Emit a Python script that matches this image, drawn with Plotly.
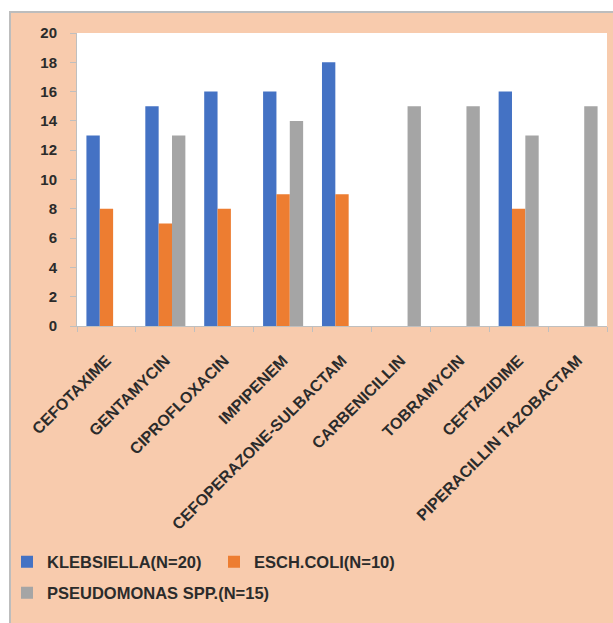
import plotly.graph_objects as go

# Antibiotics on the category axis
antibiotics = [
    "CEFOTAXIME", "GENTAMYCIN", "CIPROFLOXACIN", "IMPIPENEM",
    "CEFOPERAZONE-SULBACTAM", "CARBENICILLIN", "TOBRAMYCIN",
    "CEFTAZIDIME", "PIPERACILLIN TAZOBACTAM",
]

# Counts per organism (None where the drug was not tested)
klebsiella = [13, 15, 16, 16, 18, None, None, 16, None]
esch_coli = [8, 7, 8, 9, 9, None, None, 8, None]
pseudomonas = [None, 13, None, 14, None, 15, 15, 13, 15]

series_names = ["KLEBSIELLA(N=20)", "ESCH.COLI(N=10)", "PSEUDOMONAS SPP.(N=15)"]
series_colors = ["#4472C4", "#ED7D31", "#A5A5A5"]
series_legend = ["legend", "legend", "legend2"]

y_ticks = list(range(0, 21, 2))

FONT = "Liberation Sans"
TEXT = "#2b2b2b"
PEACH = "#F8CBAD"

fig = go.Figure()
for name, vals, col, lg in zip(series_names, [klebsiella, esch_coli, pseudomonas],
                               series_colors, series_legend):
    fig.add_trace(go.Bar(name=name, x=antibiotics, y=vals, marker_color=col,
                         marker_line_width=0, legend=lg))

# plot area occupies px 77..607 horizontally and 33..326 vertically
W, H = 613, 623
L, R, T, B = 77, 6, 33, 297
pw, ph = W - L - R, H - T - B


def px_x(p):
    return (p - L) / pw


def px_y(p):
    return (H - B - p) / ph


legend_style = dict(
    orientation="h",
    xanchor="left",
    yanchor="middle",
    bgcolor="rgba(0,0,0,0)",
    font=dict(family=FONT, size=16.5, color=TEXT, weight="bold"),
    itemclick=False,
)

fig.update_layout(
    width=W, height=H,
    margin=dict(l=L, r=R, t=T, b=B, autoexpand=False),
    paper_bgcolor="white",
    plot_bgcolor="white",
    barmode="group",
    bargap=0.32,
    bargroupgap=0,
    font=dict(family=FONT, color=TEXT, size=13),
    showlegend=True,
    legend=dict(x=px_x(7), y=px_y(562), entrywidth=162, **legend_style),
    legend2=dict(x=px_x(7), y=px_y(593), entrywidth=0, **legend_style),
    shapes=[
        # peach chart panel with grey frame
        dict(type="rect", xref="paper", yref="paper", layer="below",
             x0=px_x(10), x1=px_x(W + 5), y0=px_y(H + 5), y1=px_y(12),
             fillcolor=PEACH, line=dict(color="#BDBDBD", width=2)),
        # white plotting region
        dict(type="rect", xref="paper", yref="paper", layer="below",
             x0=0, x1=1, y0=0, y1=1,
             fillcolor="white", line=dict(width=0)),
    ],
)

fig.update_xaxes(
    type="category",
    tickangle=-45,
    tickfont=dict(family=FONT, size=16, color=TEXT, weight="bold"),
    ticklabelstandoff=18,
    showline=True, linecolor="#BFBFBF", linewidth=1,
    ticks="outside", ticklen=5, tickcolor="#BFBFBF", tickson="boundaries",
    showgrid=False, automargin=False,
)
fig.update_yaxes(
    range=[0, 20],
    tickvals=y_ticks,
    tickfont=dict(family=FONT, size=15, color=TEXT, weight="bold"),
    ticklabelstandoff=10,
    showline=True, linecolor="#BFBFBF", linewidth=1,
    ticks="outside", ticklen=6, tickcolor="#BFBFBF",
    showgrid=False, zeroline=False, automargin=False,
)

fig.write_html("out.html")
